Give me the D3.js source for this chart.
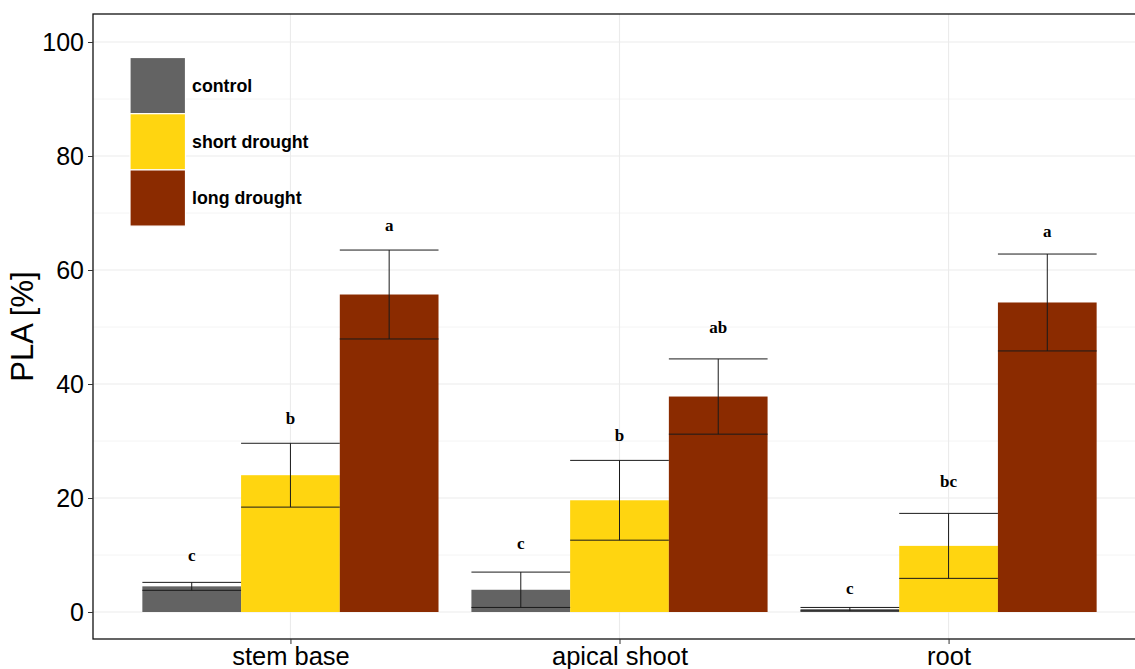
<!DOCTYPE html>
<html>
<head>
<meta charset="utf-8">
<script src="https://cdn.jsdelivr.net/npm/d3@7"></script>
<style>
  body { margin: 0; background: #fff; }
  svg { display: block; }
</style>
</head>
<body>
<svg id="chart" width="1135" height="669"></svg>
<script>
// ---- data ----
const categories = ["stem base", "apical shoot", "root"];
const treatments = ["control", "short drought", "long drought"];
const colors = ["#636363", "#FFD510", "#8B2B00"];
// mean PLA [%] per treatment for each category
const meanControl = [4.5, 3.9, 0.5];
const meanShort   = [24.0, 19.6, 11.6];
const meanLong    = [55.7, 37.8, 54.3];
// error (+/-)
const errControl = [0.7, 3.1, 0.3];
const errShort   = [5.6, 7.0, 5.7];
const errLong    = [7.8, 6.6, 8.5];
// significance letters and their heights
const lettersControl = ["c", "c", "c"];
const lettersShort   = ["b", "b", "bc"];
const lettersLong    = ["a", "ab", "a"];
const letterYControl = [9.0, 11.0, 3.2];
const letterYShort   = [33.0, 30.0, 21.9];
const letterYLong    = [66.8, 49.0, 65.8];
const yTicks = [0, 20, 40, 60, 80, 100];
const yMinor = [10, 30, 50, 70, 90];

const means = [meanControl, meanShort, meanLong];
const errs = [errControl, errShort, errLong];
const letters = [lettersControl, lettersShort, lettersLong];
const letterYs = [letterYControl, letterYShort, letterYLong];

const rows = [];
treatments.forEach((t, ti) => {
  categories.forEach((c, ci) => {
    rows.push({ t, ti, c, ci, mean: means[ti][ci], err: errs[ti][ci],
                letter: letters[ti][ci], ly: letterYs[ti][ci] });
  });
});

// ---- layout ----
const svg = d3.select("#chart");
const panel = { left: 93, top: 14, right: 1146, bottom: 639 };

const x = d3.scaleLinear().domain([0.4, 3.6]).range([panel.left, panel.right]);
const y = d3.scaleLinear().domain([0, 100]).range([612, 42]);
const barW = 0.3;
const catPos = c => categories.indexOf(c) + 1;

// grid
const g = svg.append("g");
g.selectAll(".minor").data(yMinor).enter().append("line")
  .attr("x1", panel.left).attr("x2", panel.right)
  .attr("y1", d => y(d)).attr("y2", d => y(d))
  .attr("stroke", "#f4f4f4").attr("stroke-width", 1);
g.selectAll(".major").data(yTicks).enter().append("line")
  .attr("x1", panel.left).attr("x2", panel.right)
  .attr("y1", d => y(d)).attr("y2", d => y(d))
  .attr("stroke", "#ebebeb").attr("stroke-width", 1.1);
g.selectAll(".vmajor").data(categories).enter().append("line")
  .attr("x1", d => x(catPos(d))).attr("x2", d => x(catPos(d)))
  .attr("y1", panel.top).attr("y2", panel.bottom)
  .attr("stroke", "#ebebeb").attr("stroke-width", 1.1);

// bars
svg.append("g").selectAll("rect").data(rows).enter().append("rect")
  .attr("x", d => x(catPos(d.c) + (d.ti - 1) * barW - barW / 2))
  .attr("width", d => x(barW) - x(0))
  .attr("y", d => y(d.mean))
  .attr("height", d => y(0) - y(d.mean))
  .attr("fill", d => colors[d.ti]);

// error bars
const eb = svg.append("g").attr("stroke", "#1a1a1a").attr("stroke-width", 1).attr("fill", "none");
rows.forEach(d => {
  const cx = x(catPos(d.c) + (d.ti - 1) * barW);
  const x0 = x(catPos(d.c) + (d.ti - 1) * barW - barW / 2);
  const x1 = x(catPos(d.c) + (d.ti - 1) * barW + barW / 2);
  const lo = Math.max(0, d.mean - d.err), hi = d.mean + d.err;
  eb.append("line").attr("x1", cx).attr("x2", cx).attr("y1", y(lo)).attr("y2", y(hi));
  eb.append("line").attr("x1", x0).attr("x2", x1).attr("y1", y(hi)).attr("y2", y(hi));
  eb.append("line").attr("x1", x0).attr("x2", x1).attr("y1", y(lo)).attr("y2", y(lo));
});

// letters
svg.append("g").selectAll("text").data(rows).enter().append("text")
  .attr("x", d => x(catPos(d.c) + (d.ti - 1) * barW))
  .attr("y", d => y(d.ly))
  .attr("text-anchor", "middle")
  .attr("font-family", "Liberation Serif, Times New Roman, serif")
  .attr("font-weight", "bold")
  .attr("font-size", 17)
  .attr("fill", "#000")
  .text(d => d.letter);

// panel border
svg.append("rect")
  .attr("x", panel.left).attr("y", panel.top)
  .attr("width", panel.right - panel.left).attr("height", panel.bottom - panel.top)
  .attr("fill", "none").attr("stroke", "#111").attr("stroke-width", 1.3);

// y axis
const yAxis = svg.append("g")
  .attr("transform", `translate(${panel.left},0)`)
  .call(d3.axisLeft(y).tickValues(yTicks).tickSize(5).tickPadding(4).tickFormat(d3.format("d")));
yAxis.select(".domain").remove();
yAxis.selectAll(".tick line").attr("stroke", "#333");
yAxis.selectAll(".tick text")
  .attr("font-family", "Liberation Sans, Arial, sans-serif")
  .attr("font-size", 25).attr("fill", "#000");

// x axis
const xAxis = svg.append("g")
  .attr("transform", `translate(0,${panel.bottom})`)
  .call(d3.axisBottom(x).tickValues([1, 2, 3]).tickSize(5).tickPadding(3)
    .tickFormat(d => categories[d - 1]));
xAxis.select(".domain").remove();
xAxis.selectAll(".tick line").attr("stroke", "#333");
xAxis.selectAll(".tick text")
  .attr("font-family", "Liberation Sans, Arial, sans-serif")
  .attr("font-size", 25.5).attr("fill", "#000");

// y title
svg.append("text")
  .attr("transform", `translate(33,${(panel.top + panel.bottom) / 2}) rotate(-90)`)
  .attr("text-anchor", "middle")
  .attr("font-family", "Liberation Sans, Arial, sans-serif")
  .attr("font-size", 31)
  .attr("fill", "#000")
  .text("PLA [%]");

// legend
const leg = svg.append("g").attr("transform", "translate(130,57.5)");
const keyH = 56.2;
treatments.forEach((t, i) => {
  leg.append("rect")
    .attr("x", 0).attr("y", i * keyH)
    .attr("width", 55.5).attr("height", keyH)
    .attr("fill", colors[i]).attr("stroke", "#fff").attr("stroke-width", 1.2);
  leg.append("text")
    .attr("x", 62).attr("y", i * keyH + keyH / 2 + 6)
    .attr("font-family", "Liberation Sans, Arial, sans-serif")
    .attr("font-weight", "bold").attr("font-size", 17.8)
    .attr("fill", "#000")
    .text(t);
});
</script>
</body>
</html>
